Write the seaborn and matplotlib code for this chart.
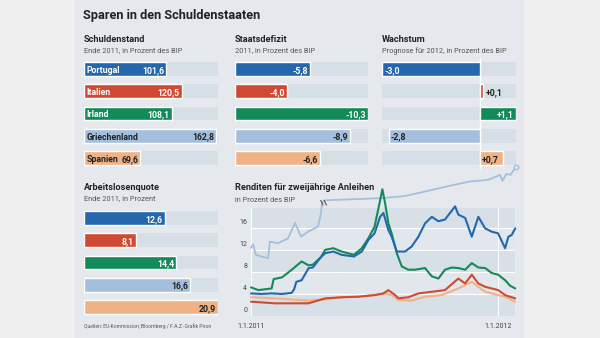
import matplotlib
matplotlib.use("Agg")
import matplotlib.pyplot as plt
import matplotlib.transforms as mtransforms
from matplotlib.patches import Rectangle
import numpy as np
import pandas as pd
import seaborn as sns

# ---------------- data ----------------
countries = ["Portugal", "Italien", "Irland", "Griechenland", "Spanien"]
colors = ["#2467ad", "#cf4a33", "#138a59", "#a3bfdd", "#efb286"]

debt = [101.6, 120.5, 108.1, 162.8, 69.6]          # Schuldenstand
deficit = [-5.8, -4.0, -10.3, -8.9, -6.6]          # Staatsdefizit
growth = [-3.0, 0.1, 1.1, -2.8, 0.7]               # Wachstum
unemployment = [12.6, 8.1, 14.4, 16.6, 20.9]       # Arbeitslosenquote

# Renditen: months since 1.1.2011, yield in %
pt_t = [0, 0.5, 1.0, 1.5, 1.98, 2.1, 2.2, 2.46, 2.8, 3.0, 3.4, 3.6, 4.0, 4.4, 5.0, 5.38, 5.7, 6.0,
        6.27, 6.43, 6.67, 6.83, 7.08, 7.48, 7.8, 8.13, 8.45, 8.78, 9.1, 9.42, 9.91, 10.07, 10.4,
        10.72, 11.04, 11.37, 11.69, 12.0, 12.34, 12.5, 12.66, 12.83]
pt_v = [4.1, 4.0, 4.1, 4.0, 4.2, 4.9, 6.2, 6.5, 8.7, 8.8, 10.7, 11.4, 11.7, 11.1, 10.8, 11.7, 13.8, 15.0,
        18.0, 18.7, 15.6, 14.4, 11.7, 11.7, 12.6, 14.4, 16.8, 18.0, 17.2, 17.5, 19.9, 18.4, 17.8,
        14.4, 18.0, 15.9, 15.3, 15.0, 12.3, 14.4, 14.7, 15.9]

ie_t = [0, 0.36, 1.0, 1.1, 1.5, 1.98, 2.46, 2.79, 3.0, 3.4, 3.6, 4.0, 4.4, 5.0, 5.38, 5.7, 6.0, 6.27,
        6.38, 6.51, 6.67, 6.83, 7.08, 7.32, 7.64, 7.97, 8.45, 8.78, 9.1, 9.42, 9.75, 10.07, 10.4,
        10.72, 11.04, 11.37, 11.69, 12.0, 12.34, 12.58, 12.83]
ie_v = [5.2, 4.7, 5.0, 6.7, 7.0, 8.4, 9.9, 9.2, 9.3, 10.7, 12.0, 12.3, 11.7, 11.1, 12.3, 14.1, 16.2, 21.0,
        23.0, 20.5, 16.8, 15.0, 11.4, 9.0, 8.4, 8.4, 8.7, 7.2, 6.8, 8.4, 8.8, 8.7, 8.4,
        9.6, 8.8, 8.7, 7.8, 7.5, 6.5, 5.5, 5.0]

it_t = [0, 1.17, 2.79, 3.6, 4.4, 5.21, 6.02, 6.43, 6.67, 7.0, 7.16, 7.64, 8.13, 8.78, 9.42, 10.07,
        10.4, 10.72, 11.04, 11.37, 11.69, 12.0, 12.34, 12.83]
it_v = [2.6, 2.3, 2.3, 3.2, 3.4, 3.5, 3.8, 4.1, 4.7, 3.8, 3.2, 3.4, 4.1, 4.4, 4.7, 6.8,
        5.9, 7.5, 5.9, 5.3, 5.0, 4.7, 3.8, 3.2]

es_t = [0, 1.17, 2.79, 3.6, 4.4, 5.21, 6.02, 6.51, 6.83, 7.16, 7.8, 8.45, 9.26, 10.07, 10.72,
        11.04, 11.37, 11.69, 12.0, 12.34, 12.83]
es_v = [3.4, 3.2, 2.8, 3.0, 3.4, 3.5, 3.8, 4.1, 3.8, 2.9, 2.8, 3.5, 3.8, 5.0, 6.2,
        5.3, 4.4, 4.1, 3.8, 3.5, 2.6]

gr_t = [0, 0.1, 0.24, 0.5, 0.83, 0.92, 1.31, 1.8, 2.14, 2.43, 2.77, 3.25, 3.4, 3.45,
        3.6, 5.0, 6.4, 7.5, 8.35, 9.5, 10.6, 11.5, 12.1, 12.2, 12.4, 12.6, 12.86]
gr_v = [12.4, 13.0, 11.1, 10.8, 10.5, 13.5, 13.2, 14.1, 16.9, 14.4, 15.3, 16.2, 18.7, 20.5,
        35.6, 40.9, 46.2, 56.8, 75.4, 101.9, 125.8, 133.8, 157.6, 128.4, 162.9, 157.6, 197.54]
gr_break = 13  # index of last point before the axis break

yticks = [0, 4, 8, 12, 16]
xlabels = ["1.1.2011", "1.1.2012"]
xlabel_pos = [0, 12]

# ---------------- style ----------------
sns.set_theme(style="white")
plt.rcParams['font.family'] = ['Roboto', 'DejaVu Sans']

OUTER = "#f0f0f0"
PANEL = "#e5e9ed"
TRACK = "#d6dee6"
BAND_D = "#d7dfe7"
BAND_L = "#e1e7ed"
DARK = "#222222"
SUB = "#555555"

W, H = 600, 338
fig = plt.figure(figsize=(6, 3.38), dpi=100, facecolor=OUTER)
fig.add_artist(Rectangle((75 / W, 0), (524 - 75) / W, 1, transform=fig.transFigure,
                         facecolor=PANEL, edgecolor="none", zorder=-10))


def ftext(x, y, s, **kw):
    fig.text(x / W, 1 - y / H, s, va="center", ha="left", **kw)


def add_ax(x0, y0, x1, y1):
    ax = fig.add_axes([x0 / W, 1 - y1 / H, (x1 - x0) / W, (y1 - y0) / H])
    ax.set_facecolor("none")
    return ax


def fmt(v, sign=False, nd=1):
    s = f"{v:+.{nd}f}" if sign else f"{v:.{nd}f}"
    return s.replace(".", ",")


def bar_panel(ax, vals, lo, hi):
    df = pd.DataFrame({"land": countries, "wert": vals})
    sns.barplot(data=df, x="wert", y="land", hue="land", palette=colors, legend=False,
                orient="h", width=0.62, saturation=1, ax=ax, zorder=2)
    ax.barh(range(5), [hi - lo] * 5, left=lo, height=0.62, color=TRACK, zorder=0, lw=0)
    ax.set_xlim(lo, hi)
    ax.set_ylim(4.5, -0.5)
    ax.set_axis_off()


def blabel(ax, text, x, i, dx, ha, color):
    ax.annotate(text, (x, i), xytext=(dx, -0.3), textcoords="offset points", ha=ha,
                va="center_baseline", fontsize=BFS, fontweight="bold", color=color)


lab_col = ["white", "white", "white", DARK, DARK]
BFS = 6.3
HFS = 6.6
SFS = 5.3

# Title
ftext(83, 16, "Sparen in den Schuldenstaaten", fontsize=9.2, fontweight="bold", color=DARK)

# ---- Schuldenstand
ftext(84, 40, "Schuldenstand", fontsize=HFS, fontweight="bold", color=DARK)
ftext(84, 51, "Ende 2011, in Prozent des BIP", fontsize=SFS, color=SUB)
ax1 = add_ax(84, 58, 218, 169)
bar_panel(ax1, debt, 0, 165.2)
for i, v in enumerate(debt):
    blabel(ax1, countries[i], 0, i, 2, "left", lab_col[i])
    blabel(ax1, fmt(v), v, i, -1.5, "right", lab_col[i])

# ---- Staatsdefizit
ftext(235, 40, "Staatsdefizit", fontsize=HFS, fontweight="bold", color=DARK)
ftext(235, 51, "2011, in Prozent des BIP", fontsize=SFS, color=SUB)
ax2 = add_ax(235, 58, 368, 169)
mag = [abs(v) for v in deficit]
bar_panel(ax2, mag, 0, max(mag))
for i, v in enumerate(deficit):
    blabel(ax2, fmt(v), abs(v), i, -1.5, "right", lab_col[i])

# ---- Wachstum
ftext(382, 40, "Wachstum", fontsize=HFS, fontweight="bold", color=DARK)
ftext(382, 51, "Prognose für 2012, in Prozent des BIP", fontsize=SFS, color=SUB)
ax3 = add_ax(382, 58, 516, 169)
bar_panel(ax3, growth, min(growth), max(growth))
ax3.axvline(0, color="white", lw=0.9, zorder=1)
grow_col = ["white", DARK, "white", DARK, DARK]
for i, v in enumerate(growth):
    if v < 0:
        blabel(ax3, fmt(v), v, i, 1.5, "left", grow_col[i])
    elif v == max(growth):
        blabel(ax3, fmt(v, True), v, i, -1.5, "right", grow_col[i])
    elif v < 0.3:
        blabel(ax3, fmt(v, True), v, i, 2, "left", grow_col[i])
    else:
        blabel(ax3, fmt(v, True), 0, i, 1.2, "left", grow_col[i])

# ---- Arbeitslosenquote
ftext(84, 187, "Arbeitslosenquote", fontsize=HFS, fontweight="bold", color=DARK)
ftext(84, 199, "Ende 2011, in Prozent", fontsize=SFS, color=SUB)
ax4 = add_ax(84, 207, 218, 318)
bar_panel(ax4, unemployment, 0, max(unemployment))
for i, v in enumerate(unemployment):
    blabel(ax4, fmt(v), v, i, -1.5, "right", lab_col[i])

ftext(84, 326, "Quellen: EU-Kommission; Bloomberg / F.A.Z.-Grafik Piron", fontsize=3.6, color=SUB)

# ---- Renditen
ftext(235, 187, "Renditen für zweijährige Anleihen", fontsize=HFS, fontweight="bold", color=DARK)
ftext(235, 200, "in Prozent des BIP", fontsize=SFS, color=SUB)
ax5 = add_ax(251, 208, 515, 316)
YMAX = 19.6
ax5.set_xlim(0, 12.82)
ax5.set_ylim(0, YMAX)
edges = yticks + [YMAX]
for k in range(len(edges) - 1):
    ax5.axhspan(edges[k], edges[k + 1], color=BAND_D if k % 2 == 0 else BAND_L, lw=0, zorder=0)
for g in yticks[1:]:
    ax5.axhline(g, color="white", lw=0.8, zorder=1)
for xv in xlabel_pos:
    ax5.axvline(xv, color="white", lw=0.8, zorder=1)

TFS = 5.0
blend = mtransforms.blended_transform_factory(ax5.transAxes, ax5.transData)
for t in yticks:
    ax5.text(-0.015, t + 0.3, str(t), transform=blend, ha="right", va="bottom",
             fontsize=TFS, color="#444444")
for xv, lab in zip(xlabel_pos, xlabels):
    ax5.annotate(lab, (xv, 0), xycoords=("data", "axes fraction"), xytext=(0, -7.2),
                 textcoords="offset points", ha="center", va="center", fontsize=TFS, color="#444444")


def brk(v):
    # compressed scale above the axis break
    return v if v <= 25 else 20.6 + (v - 25) * 0.0377


gr_plot = [brk(v) for v in gr_v]
n0 = len(ax5.lines)
sns.lineplot(x=gr_t, y=gr_plot, color=colors[3], lw=1.3, ax=ax5, estimator=None, sort=False, zorder=2)
for t_, v_, c in [(es_t, es_v, colors[4]), (it_t, it_v, colors[1]),
                  (ie_t, ie_v, colors[2]), (pt_t, pt_v, colors[0])]:
    sns.lineplot(x=t_, y=v_, color=c, lw=1.5, ax=ax5, estimator=None, sort=False, zorder=3)
for ln in ax5.lines[n0:]:
    ln.set_clip_on(False)

# break mark and end marker
bx = (gr_t[gr_break] + gr_t[gr_break + 1]) / 2
by = (gr_plot[gr_break] + gr_plot[gr_break + 1]) / 2
ax5.text(bx, by, "\\\\", ha="center", va="center", fontsize=6, color="#555555",
         fontweight="bold", zorder=5, clip_on=False)
ax5.plot(gr_t[-1], gr_plot[-1], "o", ms=3.2, mfc=PANEL, mec=colors[3], mew=1.0,
         clip_on=False, zorder=4)
ax5.annotate(fmt(gr_v[-1], nd=2), (gr_t[-1], gr_plot[-1]), xytext=(-2.5, -11.5),
             textcoords="offset points", ha="center", va="center", fontsize=TFS, color="#444444")
ax5.set_axis_off()

fig.savefig("out.png", dpi=100, facecolor=OUTER)
